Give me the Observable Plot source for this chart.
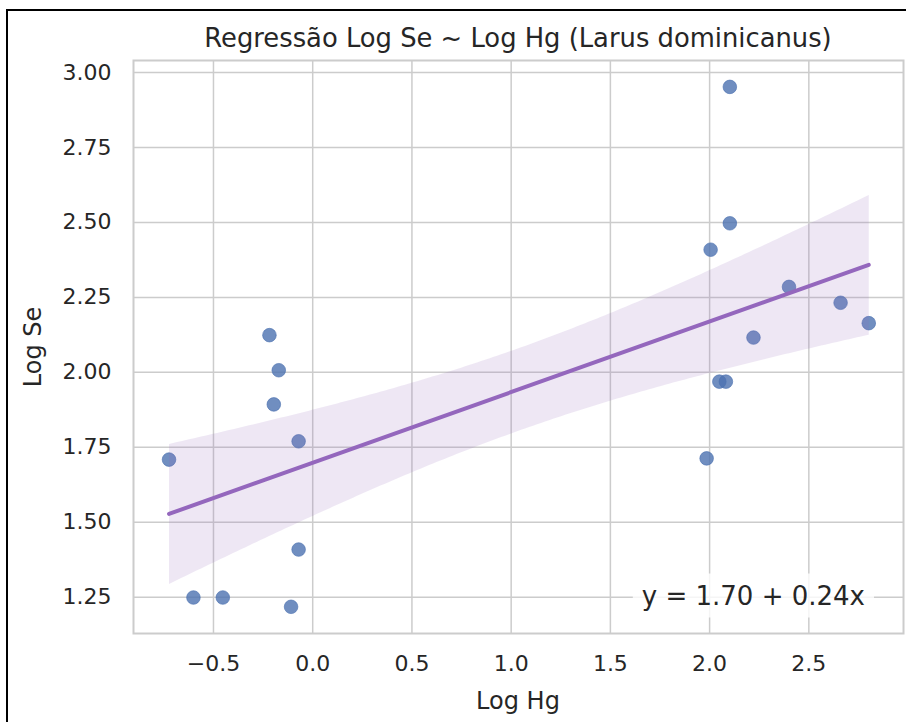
<!DOCTYPE html>
<html><head><meta charset="utf-8">
<script src="https://cdn.jsdelivr.net/npm/d3@7"></script>
<script src="https://cdn.jsdelivr.net/npm/@observablehq/plot@0.6"></script>
<style>
html,body{margin:0;padding:0;background:#fff;width:906px;height:722px;overflow:hidden;}
#page{position:relative;width:906px;height:722px;overflow:hidden;font-family:"DejaVu Sans",sans-serif;color:#262626;background:#fff;}
#border{position:absolute;left:6px;top:9px;width:1000px;height:1000px;border:2px solid #000;box-sizing:border-box;}
.lbl{position:absolute;font-size:24px;line-height:1;white-space:nowrap;text-align:center;}
#chart{position:absolute;left:0;top:40px;}
</style></head><body>
<div id="page">
<div id="border"></div>
<div id="title" class="lbl" style="left:133px;width:770px;top:26.2px;font-size:25.8px">Regressão Log Se ~ Log Hg (Larus dominicanus)</div>
<div id="chart"></div>
<div id="xlabel" class="lbl" style="left:133px;width:770px;top:689px">Log Hg</div>
<div id="ylabel" class="lbl" style="left:-67.3px;width:200px;top:334.5px;transform:rotate(-90deg)">Log Se</div>
</div>
<script>
const logHg = [-0.724, -0.601, -0.453, -0.218, -0.171, -0.196, -0.071, -0.071, -0.109,
               2.102, 2.102, 2.005, 2.400, 2.660, 2.802, 2.221, 2.049, 2.082, 1.985];
const logSe = [1.709, 1.249, 1.249, 2.124, 2.007, 1.893, 1.770, 1.409, 1.218,
               2.952, 2.497, 2.409, 2.285, 2.232, 2.164, 2.116, 1.969, 1.969, 1.713];
const xTicks = [-0.5, 0, 0.5, 1, 1.5, 2, 2.5];
const yTicks = [1.25, 1.5, 1.75, 2, 2.25, 2.5, 2.75, 3];
const eqLabel = "y = 1.70 + 0.24x";

const data = logHg.map((x, i) => ({x, y: logSe[i]}));

const chart = Plot.plot({
  width: 906, height: 682,
  marginLeft: 133, marginRight: 3, marginTop: 20, marginBottom: 89,
  style: {fontFamily: "DejaVu Sans", fontSize: "22px", color: "#262626", background: "transparent"},
  x: {domain: [-0.903, 2.977]},
  y: {domain: [1.129, 3.04]},
  marks: [
    Plot.gridX(xTicks, {stroke: "#cccccc", strokeOpacity: 1, strokeWidth: 1.5}),
    Plot.gridY(yTicks, {stroke: "#cccccc", strokeOpacity: 1, strokeWidth: 1.5}),
    Plot.frame({stroke: "#cccccc", strokeWidth: 2}),
    Plot.axisX(xTicks, {tickSize: 0, tickPadding: 22, tickFormat: d3.format(".1f"), label: null, fontSize: 22, fill: "#262626"}),
    Plot.axisY(yTicks, {tickSize: 0, tickPadding: 22, tickFormat: d3.format(".2f"), label: null, fontSize: 22, fill: "#262626"}),
    Plot.dot(data, {x: "x", y: "y", r: 6.8, fill: "#4c72b0", fillOpacity: 0.8, stroke: "#4c72b0", strokeOpacity: 0.8, strokeWidth: 0.8}),
    Plot.linearRegressionY(data, {x: "x", y: "y", stroke: "#9467bd", fill: "#9467bd", fillOpacity: 0.16, strokeWidth: 4, ci: 0.9}),
    Plot.text([eqLabel], {text: d => d, frameAnchor: "bottom-right", dx: -38.5, dy: -29, textAnchor: "end", lineAnchor: "bottom", fontSize: 26, fill: "#262626"})
  ]
});
document.getElementById("chart").append(chart);

const t = [...chart.querySelectorAll("text")].find(e => e.textContent === eqLabel);
if (t) {
  const bb = t.getBBox();
  const rect = document.createElementNS("http://www.w3.org/2000/svg", "rect");
  rect.setAttribute("x", bb.x - 9);
  rect.setAttribute("y", bb.y - 7);
  rect.setAttribute("width", bb.width + 18);
  rect.setAttribute("height", bb.height + 14);
  rect.setAttribute("rx", 3);
  rect.setAttribute("fill", "#ffffff");
  rect.setAttribute("fill-opacity", 0.8);
  const tr = t.getAttribute("transform");
  if (tr) rect.setAttribute("transform", tr);
  t.parentNode.insertBefore(rect, t);
}
</script>
</body></html>
